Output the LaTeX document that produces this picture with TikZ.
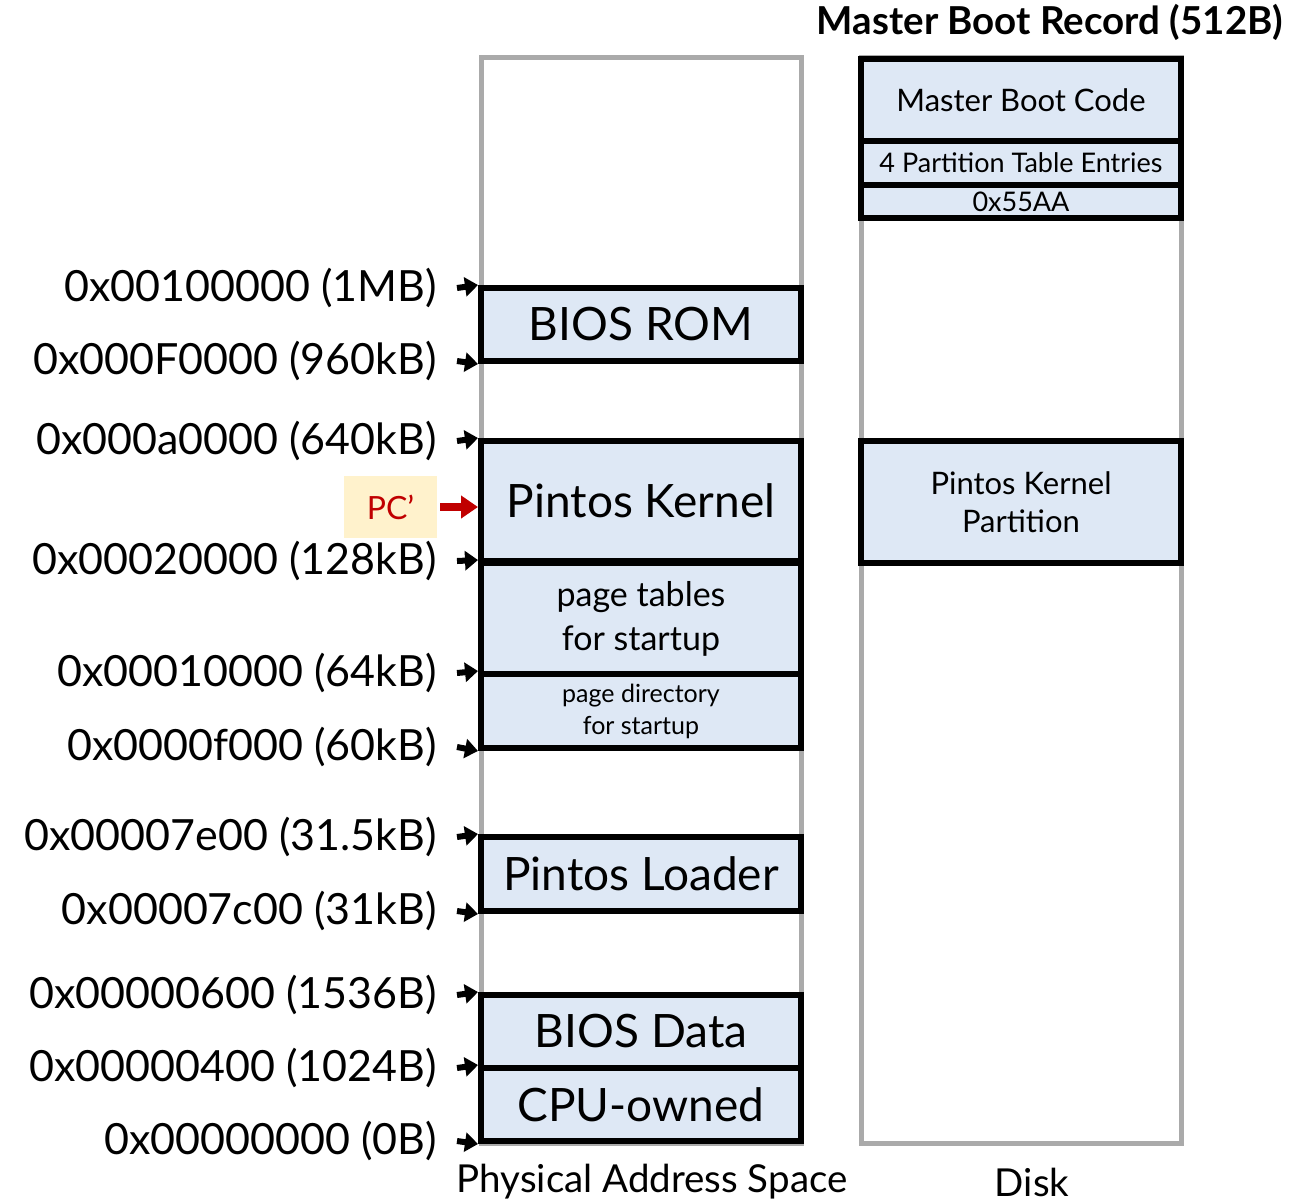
\documentclass[tikz,border=0pt]{standalone}
\usepackage{fontspec}
\setmainfont{Lato}
\usetikzlibrary{arrows.meta}
\definecolor{blkfill}{RGB}{222,232,245}
\definecolor{colgray}{RGB}{170,170,170}
\definecolor{pcfill}{RGB}{255,242,204}
\definecolor{pcred}{RGB}{192,0,0}
\newcommand{\fsz}[2]{\fontsize{#1}{#2}\selectfont}

\tikzset{
  col/.style={draw=colgray, line width=5pt, minimum width=320pt, minimum height=1086pt, inner sep=0pt},
  blk/.style={draw=black, line width=6pt, fill=blkfill, minimum width=320pt, inner sep=0pt, align=center},
  addr/.style={anchor=east, inner sep=0pt, font=\fsz{43}{50}},
  tick/.style={-{Triangle[length=13pt,width=19pt]}, line width=6pt},
}

\begin{document}
\begin{tikzpicture}[x=1pt, y=-1pt]
    \useasboundingbox (0,0) rectangle (1299,1203);
    % columns
    \node[col] (phys) at (641, 600) {};
    \node[col] (disk) at (1021, 600) {};
    \node[font=\fsz{38.5}{46}\bfseries] (mbr) at (1050, 22) {Master Boot Record (512B)};
    \node[font=\fsz{38.5}{46}] (physlbl) at (652, 1182) {Physical Address Space};
    \node[font=\fsz{38.5}{46}] (disklbl) at (1032, 1182) {Disk};
    % memory blocks
    \node[blk, minimum height=73pt, font=\fsz{46}{55}] (rom) at (641, 324.5) {BIOS ROM};
    \node[blk, minimum height=120pt, font=\fsz{46}{55}] (kern) at (641, 501) {Pintos Kernel};
    \node[blk, minimum height=112pt, font=\fsz{34}{44}] (ptab) at (641, 619) {page tables\\for startup};
    \node[blk, minimum height=74pt, font=\fsz{25}{32}] (pdir) at (641, 711) {page directory\\for startup};
    \node[blk, minimum height=74pt, font=\fsz{46}{55}] (ldr) at (641, 874) {Pintos Loader};
    \node[blk, minimum height=73pt, font=\fsz{46}{55}] (bdata) at (641, 1031.5) {BIOS Data};
    \node[blk, minimum height=73pt, font=\fsz{46}{55}] (cpu) at (641, 1104.5) {CPU-owned};
    % disk blocks
    \node[blk, minimum height=82pt, font=\fsz{31}{38}] (mbc) at (1021, 100) {Master Boot Code};
    \node[blk, minimum height=44pt, font=\fsz{27}{33}] (pte) at (1021, 163) {4 Partition Table Entries};
    \node[blk, minimum height=33pt, font=\fsz{27}{33}] (sig) at (1021, 201.5) {0x55AA};
    \node[blk, minimum height=122pt, font=\fsz{31}{38}, text depth=-3pt] (part) at (1021, 502) {Pintos Kernel\\Partition};
    % addresses
    \node[addr] (a1) at (437, 288) {0x00100000 (1MB)};
    \node[addr] (a2) at (437, 361) {0x000F0000 (960kB)};
    \node[addr] (a3) at (437, 441) {0x000a0000 (640kB)};
    \node[addr] (a4) at (437, 561) {0x00020000 (128kB)};
    \node[addr] (a5) at (437, 673) {0x00010000 (64kB)};
    \node[addr] (a6) at (437, 747) {0x0000f000 (60kB)};
    \node[addr] (a7) at (437, 837) {0x00007e00 (31.5kB)};
    \node[addr] (a8) at (437, 911) {0x00007c00 (31kB)};
    \node[addr] (a9) at (437, 995) {0x00000600 (1536B)};
    \node[addr] (a10) at (437, 1068) {0x00000400 (1024B)};
    \node[addr] (a11) at (437, 1141) {0x00000000 (0B)};
    \draw[tick] ([xshift=20pt]a1.east) -- (rom.north west);
    \draw[tick] ([xshift=20pt]a2.east) -- (rom.south west);
    \draw[tick] ([xshift=20pt]a3.east) -- (kern.north west);
    \draw[tick] ([xshift=20pt]a4.east) -- (ptab.north west);
    \draw[tick] ([xshift=20pt]a5.east) -- (pdir.north west);
    \draw[tick] ([xshift=20pt]a6.east) -- (pdir.south west);
    \draw[tick] ([xshift=20pt]a7.east) -- (ldr.north west);
    \draw[tick] ([xshift=20pt]a8.east) -- (ldr.south west);
    \draw[tick] ([xshift=20pt]a9.east) -- (bdata.north west);
    \draw[tick] ([xshift=20pt]a10.east) -- (cpu.north west);
    \draw[tick] ([xshift=20pt]a11.east) -- (cpu.south west);
    % program counter
    \node[fill=pcfill, text=pcred, minimum width=93pt, minimum height=62pt, font=\fsz{32}{38}] (pc) at (390.5, 507) {PC’};
    \draw[-{Triangle[length=17pt,width=22pt]}, line width=8pt, pcred] ([xshift=3pt]pc.east) -- (pc.east -| kern.west);
\end{tikzpicture}
\end{document}
